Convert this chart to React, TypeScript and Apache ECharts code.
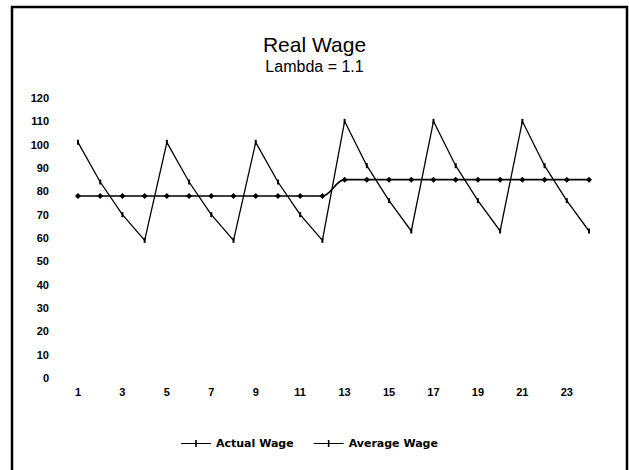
import React, { useEffect, useRef } from "react";
import * as echarts from "echarts";

const periods = ["1","2","3","4","5","6","7","8","9","10","11","12","13","14","15","16","17","18","19","20","21","22","23","24"];
const actualWage = [101, 84, 70, 59, 101, 84, 70, 59, 101, 84, 70, 59, 110, 91, 76, 63, 110, 91, 76, 63, 110, 91, 76, 63];
const averageWage = [78, 78, 78, 78, 78, 78, 78, 78, 78, 78, 78, 78, 85, 85, 85, 85, 85, 85, 85, 85, 85, 85, 85, 85];
const titleText = "Real Wage";
const subtitleText = "Lambda = 1.1";

const legendIcon = "path://M0,4.4h30v1.2h-30z M14.2,1.5h1.6v7h-1.6z";

export default function App() {
  const ref = useRef<HTMLDivElement>(null);
  useEffect(() => {
    if (!ref.current) return;
    const chart = echarts.init(ref.current, null, { renderer: "svg" });
    const font = "'Liberation Sans', Arial, sans-serif";
    const boldFont = "'DejaVu Sans', sans-serif";
    chart.setOption({
      animation: false,
      backgroundColor: "#ffffff",
      title: {
        text: titleText,
        subtext: subtitleText,
        left: "center",
        top: 29,
        itemGap: 3,
        textStyle: { fontFamily: font, fontSize: 21, fontWeight: "normal", color: "#000" },
        subtextStyle: { fontFamily: font, fontSize: 16, color: "#000" },
      },
      graphic: [
        {
          type: "rect",
          shape: { x: 12, y: 7, width: 615, height: 480 },
          style: { fill: "none", stroke: "#000", lineWidth: 2.5 },
          silent: true,
        },
      ],
      legend: {
        top: 433,
        left: 176,
        itemWidth: 30,
        itemHeight: 10,
        itemGap: 20,
        icon: legendIcon,
        textStyle: { fontFamily: boldFont, fontSize: 11, fontWeight: "bold", color: "#000" },
        data: ["Actual Wage", "Average Wage"],
      },
      grid: { left: 78, right: 40, top: 98, bottom: 92 },
      xAxis: {
        type: "category",
        data: periods,
        boundaryGap: false,
        axisLine: { show: false },
        axisTick: { show: false },
        splitLine: { show: false },
        axisLabel: {
          interval: 1,
          margin: 8,
          fontFamily: font,
          fontSize: 11,
          fontWeight: "bold",
          color: "#000",
        },
      },
      yAxis: {
        type: "value",
        min: 0,
        max: 120,
        interval: 10,
        axisLine: { show: false },
        axisTick: { show: false },
        splitLine: { show: false },
        axisLabel: {
          margin: 29,
          fontFamily: font,
          fontSize: 11,
          fontWeight: "bold",
          color: "#000",
        },
      },
      series: [
        {
          name: "Actual Wage",
          type: "line",
          data: actualWage,
          symbol: "rect",
          symbolSize: [2, 5],
          lineStyle: { color: "#000", width: 1.3 },
          itemStyle: { color: "#000" },
        },
        {
          name: "Average Wage",
          type: "line",
          data: averageWage,
          smooth: 0.35,
          symbol: "diamond",
          symbolSize: 6,
          lineStyle: { color: "#000", width: 1.6 },
          itemStyle: { color: "#000" },
        },
      ],
    });
    return () => chart.dispose();
  }, []);
  return (
    <div
      ref={ref}
      style={{ position: "fixed", left: 0, top: 0, width: 629, height: 470, background: "#fff" }}
    />
  );
}
